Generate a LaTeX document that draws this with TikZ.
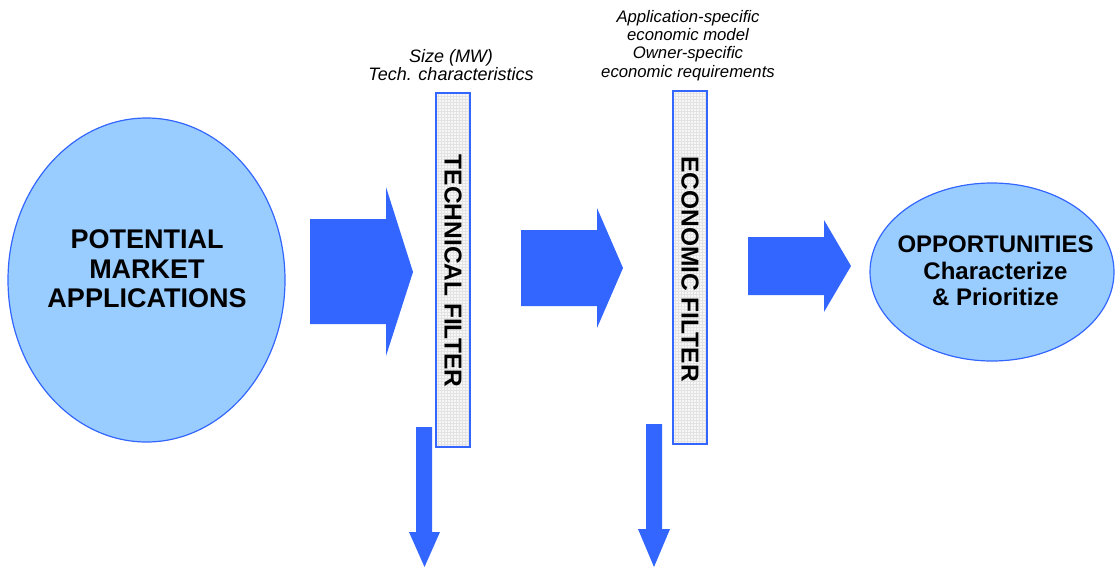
\documentclass[tikz,border=0pt]{standalone}
\usepackage{fontspec}
\setmainfont{Liberation Sans}
\usetikzlibrary{shapes.geometric}
\definecolor{arrowblue}{HTML}{3366FF}
\definecolor{ellfill}{HTML}{99CCFF}
\begin{document}
\begin{tikzpicture}[x=1pt,y=-1pt,
  ell/.style={ellipse, draw=arrowblue, fill=ellfill, line width=1.2pt, inner sep=0pt},
  blockarrow/.style={fill=arrowblue},
  filterbox/.style={rectangle, draw=arrowblue, line width=1.5pt, fill=gray!6, inner sep=0pt,
    path picture={\draw[step=3pt, gray!22, line width=0.3pt] (path picture bounding box.south west) grid (path picture bounding box.north east);}},
  maintext/.style={font=\fontsize{27}{29.5}\selectfont\bfseries, align=center, inner sep=0pt},
  opptext/.style={font=\fontsize{24}{26.5}\selectfont\bfseries, align=center, inner sep=0pt},
  filtertext/.style={font=\fontsize{24.5}{26}\selectfont\bfseries, inner sep=0pt, rotate=-90},
  labeltext/.style={font=\fontsize{18}{18}\selectfont\itshape, align=center, inner sep=0pt},
  labeltextsmall/.style={font=\fontsize{16.7}{18.2}\selectfont\itshape, align=center, inner sep=0pt}
]
\useasboundingbox (0,0) rectangle (1115,567);

% left ellipse
\node[ell, minimum width=277pt, minimum height=324pt] (pma) at (146.5,280) {};
\node[maintext] (pmatext) at (147,269) {POTENTIAL\\MARKET\\APPLICATIONS};

% right ellipse
\node[ell, minimum width=244pt, minimum height=178pt] (opp) at (992,272) {};
\node[opptext] (opptxt) at (995.5,271) {OPPORTUNITIES\\Characterize\\\& Prioritize};

% filters
\node[filterbox, minimum width=34pt, minimum height=354pt] (tf) at (453,270) {};
\node[filtertext] (tftext) at (453,271) {TECHNICAL FILTER};
\node[filterbox, minimum width=34pt, minimum height=353pt] (ef) at (690,267.5) {};
\node[filtertext] (eftext) at (690,269) {ECONOMIC FILTER};

% labels
\node[labeltext] (tflabel) at (451,65) {Size (MW)\\Tech. characteristics};
\node[labeltextsmall] (eflabel) at (688,45.5) {Application-specific\\economic model\\Owner-specific\\economic requirements};

% block arrows
\fill[blockarrow] (310,219) -- (386,219) -- (386,187) -- (413,272) -- (386,356) -- (386,324) -- (310,324) -- cycle;
\fill[blockarrow] (521,230) -- (597,230) -- (597,208) -- (623,268) -- (597,328) -- (597,306) -- (521,306) -- cycle;
\fill[blockarrow] (748,237) -- (824,237) -- (824,220) -- (851,266) -- (824,312) -- (824,295) -- (748,295) -- cycle;

% down arrows
\fill[blockarrow] (416,427) -- (432,427) -- (432,532) -- (440,532) -- (424.5,567) -- (409,532) -- (416,532) -- cycle;
\fill[blockarrow] (646,424) -- (662,424) -- (662,529) -- (670,529) -- (654,567) -- (638,529) -- (646,529) -- cycle;
\end{tikzpicture}
\end{document}
